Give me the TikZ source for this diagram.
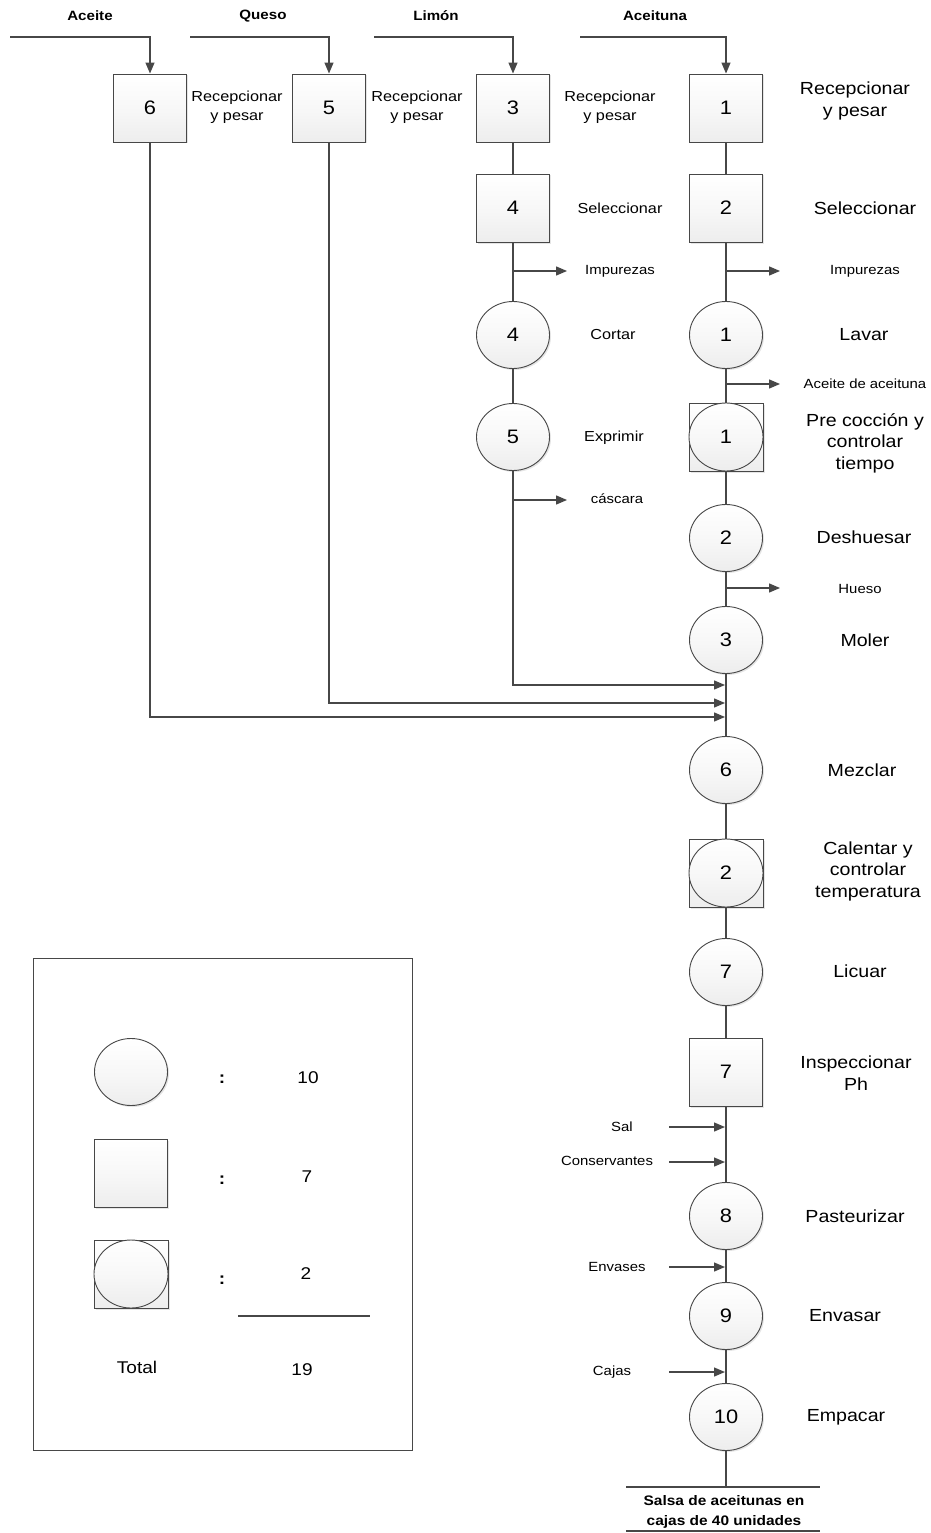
\documentclass[tikz,border=0pt]{standalone}
\usepackage{fontspec}
\setmainfont{Liberation Sans}[FakeStretch=1.12]
\usetikzlibrary{arrows.meta,shapes.geometric,shadows}
\definecolor{ln}{HTML}{474747}
\definecolor{shd}{HTML}{EDEDED}
\tikzset{
  flow/.style={draw=ln, line width=1.3pt},
  arr/.style={flow, -{Triangle[length=11pt,width=9pt]}},
  shp/.style={draw=ln, line width=0.9pt, top color=white, bottom color=shd, middle color=shd!40,
     drop shadow={shadow xshift=1.5pt, shadow yshift=-1.5pt, fill=black, opacity=0.10},
     inner sep=0pt, font=\fontsize{19.5}{19.5}\selectfont},
  opbox/.style={shp, rectangle, minimum width=73pt, minimum height=68pt},
  opcirc/.style={shp, ellipse, minimum width=73pt, minimum height=67pt},
  opsq/.style={shp, rectangle, minimum width=74pt, minimum height=68pt},
  opin/.style={draw=ln, line width=0.9pt, top color=white, bottom color=shd, middle color=shd!40, ellipse,
     inner sep=0pt, minimum width=74pt, minimum height=68pt, font=\fontsize{19.5}{19.5}\selectfont},
  mainlab/.style={font=\fontsize{17.5}{21.5}\selectfont, align=center, inner sep=0pt},
  seclab/.style={font=\fontsize{14.5}{19}\selectfont, align=center, inner sep=0pt},
  smlab/.style={font=\fontsize{13.3}{15}\selectfont, align=center, inner sep=0pt},
  toplab/.style={font=\fontsize{13.5}{16}\selectfont\bfseries, inner sep=0pt},
  leglab/.style={font=\fontsize{17}{20}\selectfont, inner sep=0pt},
}
\begin{document}
\begin{tikzpicture}[x=1pt,y=-1pt]
\useasboundingbox[fill=white] (0,0) rectangle (930,1533);

% ---------- main column (Aceituna) ----------
\node[opbox] (b1) at (726,108) {1};
\node[opbox] (b2) at (726,208) {2};
\node[opcirc] (c1) at (726,335) {1};
\node[opsq] (pc1) at (726,437) {};
\node[opin] (pc1c) at (726,437) {1};
\node[opcirc] (c2) at (726,538) {2};
\node[opcirc] (c3) at (726,640) {3};
\node[opcirc] (c6) at (726,770) {6};
\node[opsq] (pc2) at (726,873) {};
\node[opin] (pc2c) at (726,873) {2};
\node[opcirc] (c7) at (726,972) {7};
\node[opbox] (b7) at (726,1072) {7};
\node[opcirc] (c8) at (726,1216) {8};
\node[opcirc] (c9) at (726,1316) {9};
\node[opcirc] (c10) at (726,1417) {10};
\coordinate (outtop) at (726,1487);

\draw[flow] (b1) -- (b2) -- (c1) -- (pc1) -- (c2) -- (c3) -- (c6) -- (pc2) -- (c7) -- (b7) -- (c8) -- (c9) -- (c10) -- (outtop);

% main labels
\node[mainlab] (l1) at (855,101) {Recepcionar\\y pesar};
\node[mainlab] (l2) at (865,208) {Seleccionar};
\node[mainlab] (l3) at (864,335) {Lavar};
\node[mainlab] (l4) at (865,443) {Pre cocción y\\controlar\\tiempo};
\node[mainlab] (l5) at (864,537) {Deshuesar};
\node[mainlab] (l6) at (865,640) {Moler};
\node[mainlab] (l7) at (862,770) {Mezclar};
\node[mainlab] (l8) at (868,871) {Calentar y\\controlar\\temperatura};
\node[mainlab] (l9) at (860,971) {Licuar};
\node[mainlab] (l10) at (856,1073) {Inspeccionar\\Ph};
\node[mainlab] (l11) at (855,1216) {Pasteurizar};
\node[mainlab] (l12) at (845,1316) {Envasar};
\node[mainlab] (l13) at (846,1417) {Empacar};

% main outputs
\coordinate (j1) at (726,271); \coordinate (e1) at (780,271);
\draw[arr] (j1) -- (e1);
\node[smlab] (o1) at (865,271) {Impurezas};
\coordinate (j2) at (726,384); \coordinate (e2) at (780,384);
\draw[arr] (j2) -- (e2);
\node[smlab] (o2) at (865,384) {Aceite de aceituna};
\coordinate (j3) at (726,588); \coordinate (e3) at (780,588);
\draw[arr] (j3) -- (e3);
\node[smlab] (o3) at (860,589) {Hueso};

% ---------- Limón column ----------
\node[opbox] (b3) at (513,108) {3};
\node[opbox] (b4) at (513,208) {4};
\node[opcirc] (c4l) at (513,335) {4};
\node[opcirc] (c5l) at (513,437) {5};
\draw[flow] (b3) -- (b4) -- (c4l) -- (c5l);
\node[seclab] (s3) at (610,107) {Recepcionar\\y pesar};
\node[seclab] (s4) at (620,208) {Seleccionar};
\node[seclab] (s5) at (613,335) {Cortar};
\node[seclab] (s6) at (614,438) {Exprimir};
\coordinate (k1) at (513,271); \coordinate (f1) at (567,271);
\draw[arr] (k1) -- (f1);
\node[smlab] (p1) at (620,271) {Impurezas};
\coordinate (k2) at (513,500); \coordinate (f2) at (567,500);
\draw[arr] (k2) -- (f2);
\node[smlab] (p2) at (617,499) {cáscara};

% ---------- Queso & Aceite ----------
\node[opbox] (b5) at (329,108) {5};
\node[opbox] (b6) at (150,108) {6};
\node[seclab] (s1) at (237,107) {Recepcionar\\y pesar};
\node[seclab] (s2) at (417,107) {Recepcionar\\y pesar};

% merges into main line
\coordinate (m1) at (725,685);
\coordinate (m2) at (725,703);
\coordinate (m3) at (725,717);
\draw[arr] (c5l) |- (m1);
\draw[arr] (b5) |- (m2);
\draw[arr] (b6) |- (m3);

% ---------- top inputs ----------
\node[toplab] (tA) at (90,16) {Aceite};
\node[toplab] (tQ) at (263,16) {Queso};
\node[toplab] (tL) at (436,16) {Limón};
\node[toplab] (tU) at (655,16) {Aceituna};
\coordinate (iA) at (10,37);
\coordinate (iQ) at (190,37);
\coordinate (iL) at (374,37);
\coordinate (iU) at (580,37);
\draw[arr] (iA) -| (b6);
\draw[arr] (iQ) -| (b5);
\draw[arr] (iL) -| (b3);
\draw[arr] (iU) -| (b1);

% ---------- lower inputs ----------
\node[smlab] (q1) at (622,1127) {Sal};
\coordinate (g1) at (669,1127); \coordinate (h1) at (725,1127);
\draw[arr] (g1) -- (h1);
\node[smlab] (q2) at (607,1161) {Conservantes};
\coordinate (g2) at (669,1162); \coordinate (h2) at (725,1162);
\draw[arr] (g2) -- (h2);
\node[smlab] (q3) at (617,1267) {Envases};
\coordinate (g3) at (669,1267); \coordinate (h3) at (725,1267);
\draw[arr] (g3) -- (h3);
\node[smlab] (q4) at (612,1372) {Cajas};
\coordinate (g4) at (669,1372); \coordinate (h4) at (725,1372);
\draw[arr] (g4) -- (h4);

% ---------- output ----------
\coordinate (oL) at (626,1487); \coordinate (oR) at (820,1487);
\coordinate (oL2) at (626,1531); \coordinate (oR2) at (820,1531);
\draw[flow] (oL) -- (oR);
\draw[flow] (oL2) -- (oR2);
\node[font=\fontsize{13.8}{19.5}\selectfont\bfseries, align=center, inner sep=0pt] (out) at (724,1512) {Salsa de aceitunas en\\cajas de 40 unidades};

% ---------- legend ----------
\node[draw=ln, line width=1pt, minimum width=379pt, minimum height=492pt, inner sep=0pt] (leg) at (222.5,1204) {};
\node[opcirc] (lc) at (131,1072) {};
\node[opbox] (lb) at (131,1173) {};
\node[opsq] (lp) at (131,1274) {};
\node[opin] (lpc) at (131,1274) {};
\node[leglab] (k1a) at (222,1079) {\bfseries :};
\node[leglab] (k2a) at (222,1180) {\bfseries :};
\node[leglab] (k3a) at (222,1280) {\bfseries :};
\node[leglab] (n1) at (308,1078) {10};
\node[leglab] (n2) at (307,1177) {7};
\node[leglab] (n3) at (306,1274) {2};
\coordinate (tl1) at (238,1316); \coordinate (tl2) at (370,1316);
\draw[flow] (tl1) -- (tl2);
\node[leglab] (tot) at (137,1367) {Total};
\node[leglab] (n4) at (302,1370) {19};
\end{tikzpicture}
\end{document}
